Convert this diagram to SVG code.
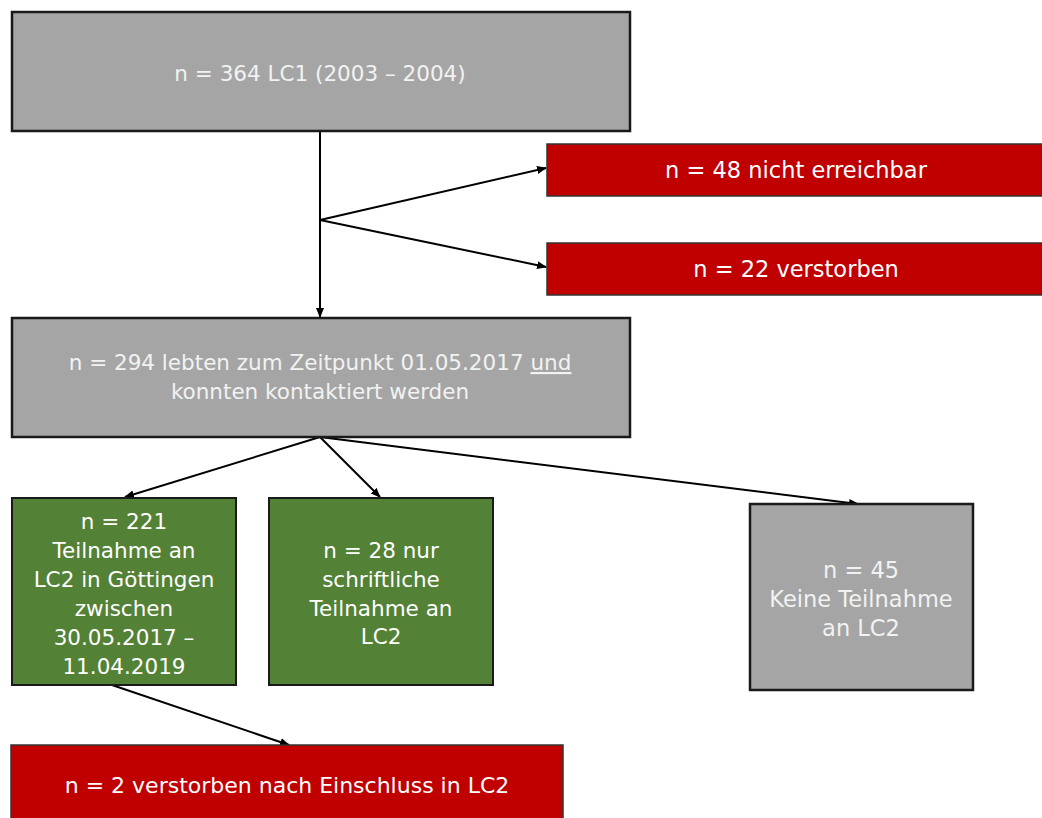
<svg xmlns="http://www.w3.org/2000/svg" width="1042" height="818" viewBox="0 0 1042 818">
<style>
.gray{fill:#a5a5a5;stroke:#1a1a1a;stroke-width:2.5}
.red{fill:#c00000;stroke:#333;stroke-width:1.5}
.green{fill:#538135;stroke:#1a1a1a;stroke-width:2}
text{font-family:"DejaVu Sans","Liberation Sans",sans-serif;font-size:21.5px;fill:#ffffff;text-anchor:middle}
.lt{fill:#f2f2f2}
.big{font-size:22.5px}
.sm{font-size:22px}
.conn line{stroke:#000;stroke-width:2;marker-end:url(#ah)}
</style>
<defs>
<marker id="ah" viewBox="0 0 10 10" refX="9" refY="5" markerWidth="5" markerHeight="5" orient="auto" markerUnits="strokeWidth">
<path d="M0,1 L10,5 L0,9 z" fill="#000"/>
</marker>
</defs>
<rect width="1042" height="818" fill="#fff"/>
<g class="conn">
<line x1="320" y1="131" x2="320" y2="317"/>
<line x1="320" y1="220" x2="546" y2="168"/>
<line x1="320" y1="220" x2="546" y2="267"/>
<line x1="320" y1="437" x2="125" y2="497"/>
<line x1="320" y1="437" x2="380" y2="497"/>
<line x1="320" y1="437" x2="858" y2="504"/>
<line x1="112" y1="685" x2="289" y2="745"/>
</g>
<g id="n1"><rect class="gray" x="12" y="12" width="618" height="119"/><text class="lt" x="320" y="81">n = 364 LC1 (2003 – 2004)</text></g>
<g id="n2"><rect class="red" x="547" y="144" width="500" height="52"/><text class="big" x="796" y="178">n = 48 nicht erreichbar</text></g>
<g id="n3"><rect class="red" x="547" y="243" width="500" height="52"/><text class="big" x="796" y="277">n = 22 verstorben</text></g>
<g id="n4"><rect class="gray" x="12" y="318" width="618" height="119"/><text class="lt" x="320" y="370">n = 294 lebten zum Zeitpunkt 01.05.2017 <tspan text-decoration="underline">und</tspan></text><text class="lt" x="320" y="399">konnten kontaktiert werden</text></g>
<g id="n5"><rect class="green" x="12" y="498" width="224" height="187"/>
<text x="124" y="529">n = 221</text><text x="124" y="558">Teilnahme an</text><text x="124" y="587">LC2 in Göttingen</text><text x="124" y="616">zwischen</text><text x="124" y="645">30.05.2017 –</text><text x="124" y="674">11.04.2019</text></g>
<g id="n6"><rect class="green" x="269" y="498" width="224" height="187"/>
<text x="381" y="558">n = 28 nur</text><text x="381" y="587">schriftliche</text><text x="381" y="616">Teilnahme an</text><text x="381" y="644">LC2</text></g>
<g id="n7"><rect class="gray" x="750" y="504" width="223" height="186"/>
<text class="lt big" x="861" y="578">n = 45</text><text class="lt big" x="861" y="607">Keine Teilnahme</text><text class="lt big" x="861" y="636">an LC2</text></g>
<g id="n8"><rect class="red" x="11" y="745" width="552" height="80"/><text class="sm" x="287" y="793">n = 2 verstorben nach Einschluss in LC2</text></g>
</svg>
